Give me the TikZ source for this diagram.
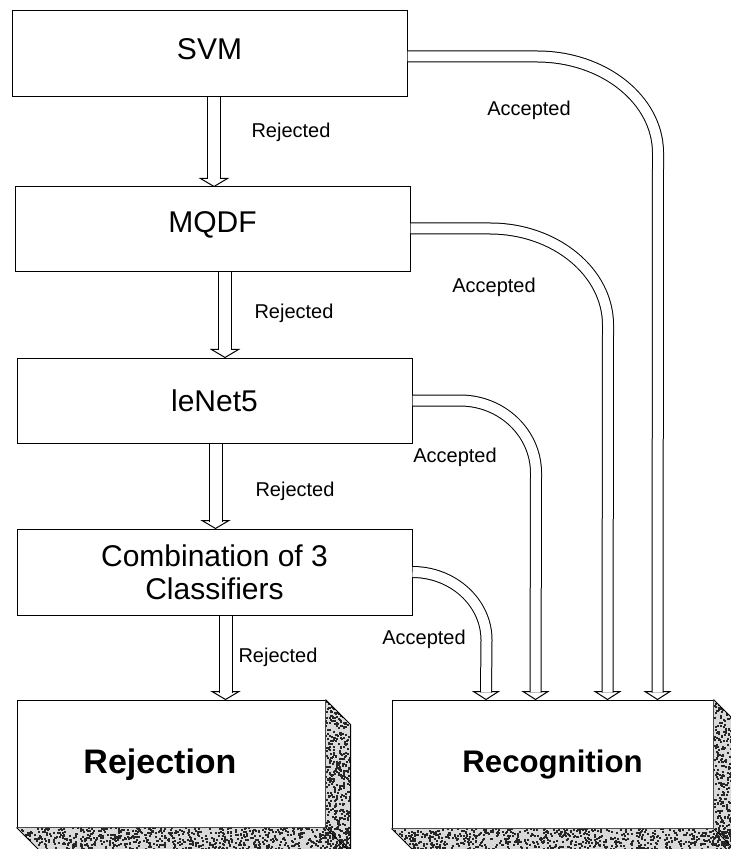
\documentclass[tikz,border=0pt]{standalone}
\usepackage{fontspec}
\setmainfont{Liberation Sans}
\usetikzlibrary{calc}
\begin{document}
\begin{tikzpicture}[x=0.5pt,y=-0.5pt,
  box/.style={draw,line width=0.5pt,inner sep=0pt,minimum width=197.5pt,font=\fontsize{15}{16.5}\selectfont,align=center},
  face/.style={draw,line width=0.5pt,inner sep=0pt,fill=white},
  lbl/.style={font=\fontsize{10}{12}\selectfont,inner sep=0pt},
  big/.style={font=\bfseries\fontsize{17}{20}\selectfont,inner sep=0pt},
  pipe/.style={draw,line width=0.5pt,double=white,double distance=5pt},
  vpipe/.style={draw,line width=0.5pt,double=white,double distance=6pt},
  head/.style={draw,fill=white,line width=0.5pt,line join=miter},
  sidefill/.style={fill=gray!30},
  noise/.style={fill=black!85},
  sideline/.style={draw,line width=0.5pt},
]
\useasboundingbox (0,0) rectangle (730,849);
\pgfmathsetseed{7}

% classifier boxes
\node[box,minimum height=43pt,text height=10.7pt,text depth=5pt] (svm) at (209.5,54) {SVM};
\node[box,minimum height=42.5pt,text height=10.7pt,text depth=7.5pt] (mqdf) at (212.5,229.5) {MQDF};
\node[box,minimum height=42.5pt] (lenet) at (214.5,400.5) {leNet5};
\node[box,minimum height=43pt] (comb) at (214.5,572) {Combination of 3\\Classifiers};

% result boxes (front faces)
\node[face,minimum width=154pt,minimum height=63.5pt] (rej) at (171,763.5) {};
\node[face,minimum width=160.5pt,minimum height=64pt,big,font=\bfseries\fontsize{15.6}{18}\selectfont] (rec) at (552.5,764) {Recognition};
\node[big] (rejtxt) at (160,765) {Rejection};

% 3D sides with noisy texture
\begin{scope}
  \clip (rej.north east) -- ++(25,25) -- ($(rej.south east)+(25,25)$) -- ($(rej.south west)+(25,25)$) -- (rej.south west) -- (rej.south east) -- cycle;
  \path[sidefill] (0,690) rectangle (380,870);
  \foreach \k in {1,...,450}{\path[noise] ({325+25*rnd},{700+153*rnd}) rectangle ++(2,2);}
  \foreach \k in {1,...,950}{\path[noise] ({17+334*rnd},{827+26*rnd}) rectangle ++(2,2);}
\end{scope}
\begin{scope}
  \clip (rec.north east) -- ++(25,25) -- ($(rec.south east)+(25,25)$) -- ($(rec.south west)+(25,25)$) -- (rec.south west) -- (rec.south east) -- cycle;
  \path[sidefill] (380,690) rectangle (760,870);
  \foreach \k in {1,...,450}{\path[noise] ({713+25*rnd},{700+153*rnd}) rectangle ++(2,2);}
  \foreach \k in {1,...,950}{\path[noise] ({392+346*rnd},{828+26*rnd}) rectangle ++(2,2);}
\end{scope}
\foreach \b in {rej,rec}{
  \draw[sideline] (\b.north east) -- ++(25,25) -- ($(\b.south east)+(25,25)$) -- ($(\b.south west)+(25,25)$) -- (\b.south west);
  \draw[sideline] (\b.south east) -- ++(25,25);
}

% vertical "Rejected" arrows
\coordinate (r1s) at ($(svm.south)+(4.5,0)$);   \coordinate (r1t) at (r1s |- mqdf.north);
\coordinate (r2s) at ($(mqdf.south)+(12.5,0)$); \coordinate (r2t) at (r2s |- lenet.north);
\coordinate (r3s) at ($(lenet.south)+(1,0)$);   \coordinate (r3t) at (r3s |- comb.north);
\coordinate (r4s) at ($(comb.south)+(11,0)$);   \coordinate (r4t) at (r4s |- rej.north);
\foreach \i in {1,2,3,4}{
  \draw[head] ($(r\i t)+(-13.5,-8)$) -- (r\i t) -- ($(r\i t)+(13.5,-8)$) -- cycle;
  \draw[vpipe] (r\i s) -- ($(r\i t)+(0,-7)$);
}

% "Accepted" pipes
\coordinate (h1) at ($(rec.north west)+(266,0)$);
\coordinate (h2) at ($(rec.north west)+(216,0)$);
\coordinate (h3) at ($(rec.north west)+(144,0)$);
\coordinate (h4) at ($(rec.north west)+(94.5,0)$);
\foreach \i in {1,2,3,4}{
  \draw[head] ($(h\i)+(-12.5,-8)$) -- (h\i) -- ($(h\i)+(12.5,-8)$) -- cycle;
}
\draw[pipe] ($(svm.east)+(0,2.5)$) -- (537,56.5) .. controls (604,56.5) and (658,100) .. (658,153) -- ($(h1)+(0,-7)$);
\draw[pipe] ($(mqdf.east)+(0,-1)$) -- (490,228.5) .. controls (555,228.5) and (608,272) .. (608,325) -- ($(h2)+(0,-7)$);
\draw[pipe] (lenet.east) -- (460,400.5) .. controls (502,400.5) and (536,433) .. (536,473) -- ($(h3)+(0,-7)$);
\draw[pipe] (comb.east) .. controls (453,572) and (486.5,602.5) .. (486.5,640) -- ($(h4)+(0,-7)$);

% labels
\node[lbl] (acc1) at (529,110) {Accepted};
\node[lbl] (acc2) at (494,287) {Accepted};
\node[lbl] (acc3) at (455,457) {Accepted};
\node[lbl] (acc4) at (424,639) {Accepted};
\node[lbl] (rl1) at (291,132) {Rejected};
\node[lbl] (rl2) at (294,313) {Rejected};
\node[lbl] (rl3) at (295,491) {Rejected};
\node[lbl] (rl4) at (278,657) {Rejected};
\end{tikzpicture}
\end{document}
